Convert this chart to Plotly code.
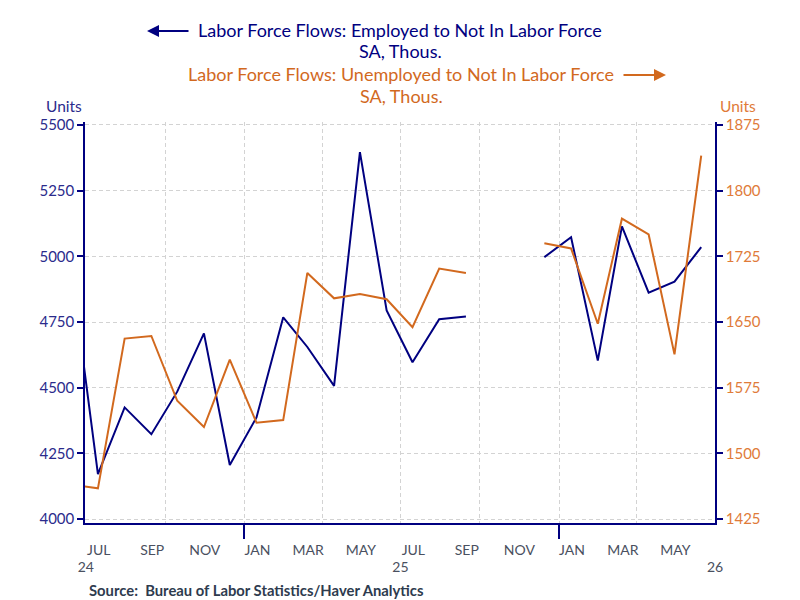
import pandas as pd
import plotly.graph_objects as go

# ---------------- data ----------------
months = pd.date_range("2024-06-01", "2026-06-01", freq="MS")
dates = months + pd.Timedelta(days=14)  # plotted at mid-month

employed_to_nilf = [4930, 4171, 4425, 4323, 4485, 4707, 4206, 4387, 4768, 4655, 4507, 5397,
                    4794, 4597, 4761, 4771, None, None, 4997, 5073, 4603, 5114, 4862, 4904, 5035]
unemployed_to_nilf = [1464, 1460, 1631, 1634, 1560, 1530, 1607, 1535, 1538, 1706, 1677, 1682,
                      1676, 1644, 1711, 1706, None, None, 1740, 1734, 1648, 1768, 1750, 1613, 1840]

month_label_dates = ["2024-07-16", "2024-09-16", "2024-11-16", "2025-01-16", "2025-03-16", "2025-05-16",
                     "2025-07-16", "2025-09-16", "2025-11-16", "2026-01-16", "2026-03-16", "2026-05-16"]
month_labels = ["JUL", "SEP", "NOV", "JAN", "MAR", "MAY", "JUL", "SEP", "NOV", "JAN", "MAR", "MAY"]
year_label_dates = ["2024-07-01", "2025-07-01", "2026-07-01"]
year_labels = ["24", "25", "26"]

left_ticks = [4000, 4250, 4500, 4750, 5000, 5250, 5500]
right_ticks = [1425, 1500, 1575, 1650, 1725, 1800, 1875]

NAVY = "#000080"
ORANGE = "#D2691E"
GRID = "#D3D3D3"
DASH = "4px,3px"
FONT = "Lato"

xrange_ = ["2024-06-30", "2026-07-01"]

fig = go.Figure()
fig.add_trace(go.Scatter(x=dates, y=employed_to_nilf, mode="lines",
                         line=dict(color=NAVY, width=2), connectgaps=False,
                         xaxis="x", yaxis="y", showlegend=False))
fig.add_trace(go.Scatter(x=dates, y=unemployed_to_nilf, mode="lines",
                         line=dict(color=ORANGE, width=2), connectgaps=False,
                         xaxis="x", yaxis="y2", showlegend=False))

fig.update_layout(
    width=800, height=600,
    margin=dict(l=85, r=85, t=122, b=77),
    paper_bgcolor="white", plot_bgcolor="white",
    font=dict(family=FONT),
    xaxis=dict(
        type="date", range=xrange_,
        tickvals=["2025-01-01", "2026-01-01"], ticktext=["", ""],
        ticks="outside", ticklen=14, tickwidth=1.5, tickcolor=NAVY,
        showgrid=True, gridcolor=GRID, griddash=DASH, gridwidth=1,
        minor=dict(tick0="2024-01-01", dtick="M3", showgrid=True, gridcolor=GRID,
                   griddash=DASH, gridwidth=1, ticks=""),
        showline=True, linecolor=NAVY, linewidth=1.5, zeroline=False,
    ),
    xaxis2=dict(
        type="date", range=xrange_, overlaying="x", side="bottom",
        tickvals=month_label_dates, ticktext=month_labels, ticks="",
        ticklabelstandoff=17,
        tickfont=dict(family=FONT, size=14, color="#4A5060"),
        showgrid=False, showline=False, zeroline=False,
    ),
    xaxis3=dict(
        type="date", range=xrange_, overlaying="x", side="bottom",
        tickvals=year_label_dates, ticktext=year_labels, ticks="",
        ticklabelstandoff=34,
        tickfont=dict(family=FONT, size=14, color="#4A5060"),
        showgrid=False, showline=False, zeroline=False,
    ),
    yaxis=dict(
        range=[3985, 5511.4], tickvals=left_ticks,
        ticks="outside", ticklen=6, tickcolor=NAVY, tickwidth=1.5,
        tickfont=dict(family=FONT, size=15, color="#2B2B8C"),
        showgrid=True, gridcolor=GRID, griddash=DASH, gridwidth=1,
        showline=True, linecolor=NAVY, linewidth=1.5, zeroline=False,
    ),
    yaxis2=dict(
        range=[1420.4, 1878.4], tickvals=right_ticks, overlaying="y", side="right",
        ticks="outside", ticklen=6, tickcolor=NAVY, tickwidth=1.5,
        tickfont=dict(family=FONT, size=15, color="#E07B39"),
        showgrid=False, showline=True, linecolor=NAVY, linewidth=1.5, zeroline=False,
    ),
)

# invisible traces to activate the label axes
fig.add_trace(go.Scatter(x=[dates[1]], y=[None], xaxis="x2", yaxis="y", showlegend=False, hoverinfo="skip"))
fig.add_trace(go.Scatter(x=[dates[1]], y=[None], xaxis="x3", yaxis="y", showlegend=False, hoverinfo="skip"))

def px_x(px):
    return (px - 85) / 630.0

def px_y(py):
    return (523 - py) / 401.0

ann = []
ann.append(dict(text="Labor Force Flows: Employed to Not In Labor Force", x=px_x(400), y=px_y(30),
                font=dict(size=18, color=NAVY, family=FONT)))
ann.append(dict(text="SA, Thous.", x=px_x(400), y=px_y(51),
                font=dict(size=18, color=NAVY, family=FONT)))
ann.append(dict(text="Labor Force Flows: Unemployed to Not In Labor Force", x=px_x(401), y=px_y(74),
                font=dict(size=18, color=ORANGE, family=FONT)))
ann.append(dict(text="SA, Thous.", x=px_x(401), y=px_y(96),
                font=dict(size=18, color=ORANGE, family=FONT)))
ann.append(dict(text="Units", x=px_x(64), y=px_y(106), font=dict(size=15.5, color="#2B2B8C", family=FONT)))
ann.append(dict(text="Units", x=px_x(738), y=px_y(106), font=dict(size=15.5, color="#E07B39", family=FONT)))
for a in ann:
    a.update(xref="paper", yref="paper", showarrow=False, xanchor="center", yanchor="middle")

ann.append(dict(text="<b>Source:\u00a0\u00a0Bureau of Labor Statistics/Haver Analytics</b>",
                x=px_x(87), y=px_y(590), xref="paper", yref="paper", showarrow=False,
                xanchor="left", yanchor="middle", font=dict(size=14.8, color="#2E3B4E", family=FONT)))

# arrows next to series titles
ann.append(dict(text="", x=px_x(147), y=px_y(31), xref="paper", yref="paper",
                ax=43, ay=0, showarrow=True, arrowhead=2, arrowsize=1.2, arrowwidth=2,
                arrowcolor=NAVY))
ann.append(dict(text="", x=px_x(666), y=px_y(75), xref="paper", yref="paper",
                ax=-44, ay=0, showarrow=True, arrowhead=2, arrowsize=1.2, arrowwidth=2,
                arrowcolor=ORANGE))
fig.update_layout(annotations=ann)

fig.write_html("out.html")
